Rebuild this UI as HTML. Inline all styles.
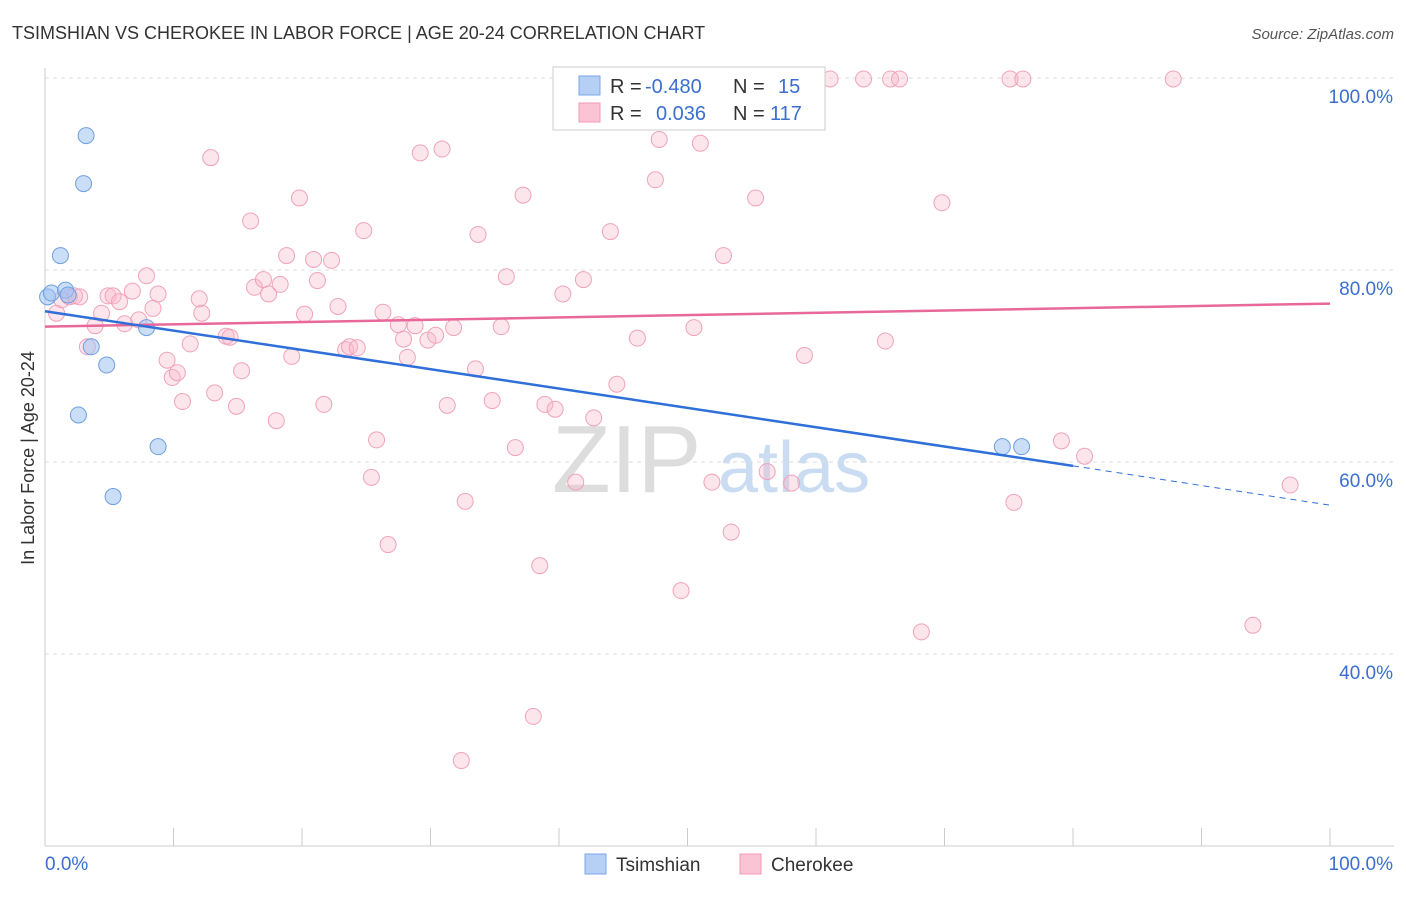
<!DOCTYPE html>
<html><head><meta charset="utf-8"><style>
body{margin:0;background:#fff;font-family:"Liberation Sans",sans-serif;}
svg text{font-family:"Liberation Sans",sans-serif;}
</style></head><body>
<svg id="c" width="1406" height="892">
<text x="12" y="39" font-size="18" fill="#333">TSIMSHIAN VS CHEROKEE IN LABOR FORCE | AGE 20-24 CORRELATION CHART</text>
<text x="1394" y="39" font-size="15" fill="#555" text-anchor="end" font-style="italic">Source: ZipAtlas.com</text>
<text x="552" y="492" font-size="96" fill="#ddd" font-family="Liberation Serif">ZIP</text>
<text x="718" y="492" font-size="72" fill="#c9dcf2">atlas</text>
<text transform="translate(34,458) rotate(-90)" font-size="18" fill="#333" text-anchor="middle">In Labor Force | Age 20-24</text>
<g id="grid"></g><g id="pts"></g><g id="lines"></g>
<g>
<rect x="553" y="67" width="272" height="63" fill="#fff" stroke="#ccc"/>
<rect x="579" y="76" width="21" height="19" fill="#b6cff5" stroke="#7aa7e8"/>
<rect x="579" y="103" width="21" height="19" fill="#fbc4d4" stroke="#f09ab4"/>
<text x="610" y="93" font-size="20" fill="#333">R = </text><text x="645" y="93" font-size="20" fill="#3a6fd0">-0.480</text>
<text x="733" y="93" font-size="20" fill="#333">N = </text><text x="778" y="93" font-size="20" fill="#3a6fd0">15</text>
<text x="610" y="120" font-size="20" fill="#333">R = </text><text x="656" y="120" font-size="20" fill="#3a6fd0">0.036</text>
<text x="733" y="120" font-size="20" fill="#333">N = </text><text x="770" y="120" font-size="20" fill="#3a6fd0">117</text>
</g>
<g>
<rect x="585" y="854" width="21" height="20" fill="#b6cff5" stroke="#7aa7e8"/>
<text x="616" y="871" font-size="19" fill="#333">Tsimshian</text>
<rect x="740" y="854" width="21" height="20" fill="#fbc4d4" stroke="#f09ab4"/>
<text x="771" y="871" font-size="19" fill="#333">Cherokee</text>
</g>
</svg>
<script>
const yTicks=[40,60,80,100];
const xTickLabels=["0.0%","100.0%"];
const tsX=[0.2,0.5,1.2,1.6,1.8,3.2,3.0,2.6,3.6,4.8,5.3,7.9,8.8,74.5,76.0];
const tsY=[77.2,77.6,81.5,77.9,77.4,94.0,89.0,64.9,72.0,70.1,56.4,74.0,61.6,61.6,61.6];
const chX=[0.9,1.3,1.9,2.3,2.7,3.3,3.9,4.4,4.9,5.3,
5.8,6.2,6.8,7.3,7.9,8.4,8.8,9.5,9.9,10.3,
10.7,11.3,12.0,12.2,12.9,13.2,14.1,14.4,14.9,15.3,
16.0,16.3,17.0,17.4,18.0,18.3,18.8,19.2,19.8,20.2,
20.9,21.2,21.7,22.3,22.8,23.4,23.7,24.3,24.8,25.4,
25.8,26.3,26.7,27.5,27.9,28.2,28.8,29.2,29.8,30.4,
30.9,31.3,31.8,32.4,32.7,33.5,33.7,34.8,35.5,35.9,
36.6,37.2,38.0,38.5,38.9,39.7,40.3,41.3,41.9,42.7,
44.0,44.5,46.1,47.5,47.8,49.5,50.5,51.0,51.9,52.8,
53.4,55.3,56.2,58.1,59.1,60.0,63.7,65.8,66.5,65.4,
68.2,69.8,75.1,75.4,76.1,79.1,80.9,87.8,94.0,96.9,
49.4,56.4,61.1,42.4];
const chY=[75.5,76.9,77.2,77.3,77.2,72.0,74.2,75.5,77.3,77.3,
76.7,74.4,77.8,74.8,79.4,76.0,77.5,70.6,68.8,69.3,
66.3,72.3,77.0,75.5,91.7,67.2,73.1,73.0,65.8,69.5,
85.1,78.2,79.0,77.5,64.3,78.5,81.5,71.0,87.5,75.4,
81.1,78.9,66.0,81.0,76.2,71.7,72.0,71.9,84.1,58.4,
62.3,75.6,51.4,74.3,72.8,70.9,74.2,92.2,72.7,73.2,
92.6,65.9,74.0,28.9,55.9,69.7,83.7,66.4,74.1,79.3,
61.5,87.8,33.5,49.2,66.0,65.5,77.5,57.9,79.0,64.6,
84.0,68.1,72.9,89.4,93.6,46.6,74.0,93.2,57.9,81.5,
52.7,87.5,59.0,57.8,71.1,99.9,99.9,99.9,99.9,72.6,
42.3,87.0,99.9,55.8,99.9,62.2,60.6,99.9,43.0,57.6,
99.9,99.9,99.9,99.9];
const trendTs=[[0,75.7],[80,59.6],[100,55.5]];
const trendCh=[[0,74.1],[100,76.5]];
const X=v=>45+v*12.85, Y=v=>78+(100-v)*9.6;
const ns="http://www.w3.org/2000/svg";
function mk(t,a,p){const e=document.createElementNS(ns,t);for(const k in a)e.setAttribute(k,a[k]);p.appendChild(e);return e;}
const g=document.getElementById('grid');
yTicks.forEach(t=>{
 const l=mk('line',{x1:45,x2:1394,y1:Y(t),y2:Y(t),stroke:'#ddd','stroke-dasharray':'4,4'},g);
 
 
 const tx=mk('text',{x:1393,y:Y(t)+25,'font-size':19,fill:'#3a6fd0','text-anchor':'end'},g);
 tx.textContent=t.toFixed(1)+'%';
 
 
});
mk('line',{x1:45,x2:45,y1:68,y2:846,stroke:'#ccc'},g);
mk('line',{x1:45,x2:1394,y1:846,y2:846,stroke:'#ccc'},g);
for(let i=0;i<=10;i++){mk('line',{x1:X(i*10),x2:X(i*10),y1:828,y2:846,stroke:'#ccc'},g);}
const xl0=mk('text',{x:45,y:870,'font-size':19,fill:'#3a6fd0'},g);xl0.textContent=xTickLabels[0];


const xl1=mk('text',{x:1393,y:870,'font-size':19,fill:'#3a6fd0','text-anchor':'end'},g);xl1.textContent=xTickLabels[1];


const p=document.getElementById('pts');
chX.forEach((x,i)=>{const c=mk('circle',{cx:X(x),cy:Y(chY[i]),r:8,fill:'rgba(248,180,200,0.35)',stroke:'#f0a3bb','stroke-width':1},p);
 
 });
tsX.forEach((x,i)=>{const c=mk('circle',{cx:X(x),cy:Y(tsY[i]),r:8,fill:'rgba(160,195,240,0.55)',stroke:'#6f9fe0','stroke-width':1},p);
 
 });
const L=document.getElementById('lines');
let a=mk('line',{x1:X(trendCh[0][0]),y1:Y(trendCh[0][1]),x2:X(trendCh[1][0]),y2:Y(trendCh[1][1]),stroke:'#e8689a','stroke-width':2.5},L);


a=mk('line',{x1:X(trendTs[0][0]),y1:Y(trendTs[0][1]),x2:X(trendTs[1][0]),y2:Y(trendTs[1][1]),stroke:'#2f6fd8','stroke-width':2.5},L);


a=mk('line',{x1:X(trendTs[1][0]),y1:Y(trendTs[1][1]),x2:X(trendTs[2][0]),y2:Y(trendTs[2][1]),stroke:'#2f6fd8','stroke-width':1,'stroke-dasharray':'6,5'},L);


</script>
</body></html>
